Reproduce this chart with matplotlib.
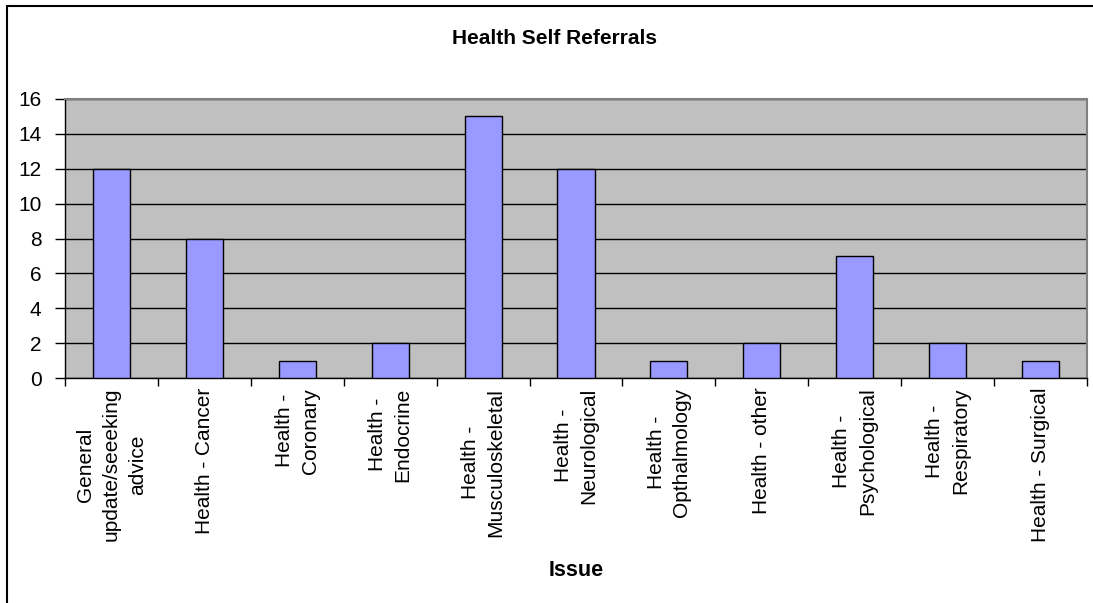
import matplotlib
matplotlib.use("Agg")
import matplotlib.pyplot as plt
import numpy as np
from matplotlib.patches import Rectangle

categories = [
    "General\nupdate/seeeking\nadvice",
    "Health - Cancer",
    "Health -\nCoronary",
    "Health -\nEndocrine",
    "Health -\nMusculoskeletal",
    "Health -\nNeurological",
    "Health -\nOpthalmology",
    "Health - other",
    "Health -\nPsychological",
    "Health -\nRespiratory",
    "Health - Surgical",
]
values = [12, 8, 1, 2, 15, 12, 1, 2, 7, 2, 1]
yticks = [0, 2, 4, 6, 8, 10, 12, 14, 16]
title = "Health Self Referrals"
xlabel = "Issue"

plt.rcParams['font.family'] = ['Liberation Sans', 'DejaVu Sans']

W, H = 1093, 603
fig = plt.figure(figsize=(W / 100, H / 100), dpi=100)
ax = fig.add_axes([65 / W, 1 - 378 / H, (1087 - 65) / W, (378 - 99) / H])
ax.set_facecolor('#C0C0C0')

x = np.arange(len(categories))
ax.bar(x, values, width=0.4, color='#9999FF', edgecolor='black', linewidth=1, zorder=3)

ax.set_xlim(-0.5, len(categories) - 0.5)
ax.set_ylim(0, 16)
ax.set_yticks(yticks)
ax.set_yticklabels([str(v) for v in yticks], fontsize=15)
ax.yaxis.grid(True, color='black', linewidth=1)
ax.set_axisbelow(True)

ax.set_xticks(np.arange(-0.5, len(categories), 1))
ax.set_xticklabels([])
ax.set_xticks(x, minor=True)
ax.set_xticklabels(categories, minor=True, rotation=90, fontsize=15,
                   ha='center', va='top', multialignment='center', linespacing=1.45)
ax.tick_params(axis='x', which='major', length=6, width=1, direction='out', color='black')
ax.tick_params(axis='x', which='minor', length=0, pad=7)
ax.tick_params(axis='y', length=7, width=1, direction='out', pad=10)

for s in ['top', 'right']:
    ax.spines[s].set_color('#808080')
    ax.spines[s].set_linewidth(1.5)
for s in ['left', 'bottom']:
    ax.spines[s].set_color('black')
    ax.spines[s].set_linewidth(1)

fig.text(554 / W, 1 - 38 / H, title, ha='center', va='center', fontsize=15, fontweight='bold')
fig.text(576 / W, 1 - 571 / H, xlabel, ha='center', va='center', fontsize=15.5, fontweight='bold')

fig.patches.append(Rectangle((6.5 / W, -0.5), 2, 0.5 + 1 - 6.5 / H, transform=fig.transFigure,
                             fill=False, edgecolor='black', linewidth=1.5))

fig.savefig('out.png', dpi=100)
